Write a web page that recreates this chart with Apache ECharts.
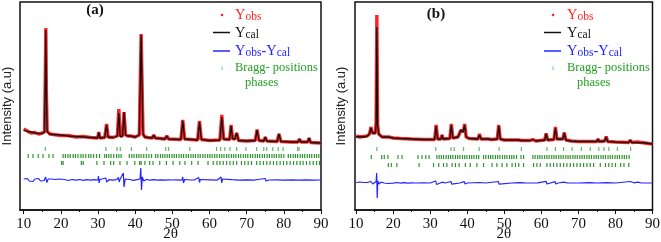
<!DOCTYPE html>
<html><head><meta charset="utf-8">
<script src="https://cdn.jsdelivr.net/npm/echarts@6/dist/echarts.min.js"></script>
<style>html,body{margin:0;padding:0;background:#fff}#c{width:661px;height:242px}</style>
</head><body><div id="c"></div>
<script>
// ---- Panel (a) data ----
const thetaA = [10,11,12,12.5,13,14,15,15.6,15.8,15.95,16.1,16.3,17,18,20,22,24,26,28,29.9,30.2,30.5,31.8,32.3,32.7,34,35.2,35.6,35.95,36.6,37.0,37.4,38.0,38.3,38.7,39.2,40,41.1,41.6,42.1,42.6,43.0,43.4,44.6,45.0,45.4,48.0,48.5,49.0,52.3,52.8,53.3,56.8,57.3,57.8,60,62.8,63.3,63.8,65.4,65.8,66.2,66.8,67.3,67.8,70,72.3,72.8,73.3,74.6,75.0,75.4,78.2,78.7,79.2,82,83.8,84.2,84.6,86.4,86.8,87.2,90];
const calA   = [80,78.5,78,80,77,76.5,76.5,78,130,180,120,78,76,75.5,75,74,73.5,73,72.5,72,77.5,72,72.5,85,73,72.5,74,97,73.5,74,98,75,74,76,74,75.5,73,75,175,76,73,75,72.5,72,75,72,71,74,71,70.5,89,71,70,88,70.5,69.5,70,93,71,70.5,84,71.5,71,77,69.5,69,69.5,80,69.5,69,73,69,68.5,76,68.5,68,68,71,68,68,72,67.5,67];
const obsA   = [81,79,77,79,77.5,76,77,78,132,182,118,79,76,75.5,74.5,74.5,73,73.5,72.5,72,78,72,72.5,86,73,72.5,74,101,74,74,98,75,74,76,74,75.5,73,75,176,76,73,75,72.5,72,75,72,71,74,71,70.5,90,71,70,89,70.5,69.5,70,95,71,70.5,85,71.5,71,77,69.5,69,69.5,80.5,69.5,69,73,69,68.5,76,68.5,68,68,71,68,68,72,67.5,67];
const diffThetaA = [10,10.5,11,11.5,12,12.5,13,13.5,14,14.5,15,15.5,15.9,16.2,16.6,17,17.5,18,18.5,19,19.5,20,21,22,23,24,25,26,27,28,29,30,30.1,30.3,30.5,31,32.1,32.3,32.5,33,34,35,35.5,35.7,35.9,36.4,36.8,37.0,37.3,37.8,38.5,39.5,40.5,41.3,41.5,41.7,41.9,42.3,43,44,45,46,47,48,49,50,51,52,52.6,52.8,53.0,53.3,55,56,57.1,57.3,57.5,58,60,62,63.1,63.3,63.5,64,66,68,70,72,73,75,75.2,76,78,80,82,84,86,88,90];
const diffA = [31,29,31.5,29,30.5,28.5,31,29.5,31.5,29,31,29.5,33,27.5,31,29.5,31,29,30.5,29.5,31,29.5,30.5,29.5,30.5,29.8,30.5,29.7,30.4,29.8,30.3,30,34,27,30.5,30,32,28,30,30.3,29.8,30.3,32.5,28,30.5,30,37,23,31,30,30.5,29.7,30.3,31,42,20,33,29,30.5,29.8,30.3,29.8,30.2,29.8,30.2,30,30.2,29.9,30,33,27,30.5,30,30.2,32.5,27.5,30.5,30,30.2,29.8,33,27,31,30,30.3,29.8,30.2,29.8,30.5,31.5,29,30,30.2,29.8,30.1,29.9,30.1,29.9,30];
const braggA1 = [15.8,32.1,35.1,36.0,39.0,43.1,48.2,49.0,54.7,61.9,63.0,64.1,65.5,67.3,69.8,72.7,74.6,75.4,77.0,78.5,79.8,83.7,84.1];
const braggA2 = [11.2,12.5,13.9,15.2,16.8,17.9,20.6,21.2,21.9,22.5,23.3,23.9,24.6,25.4,26.0,26.7,27.5,28.1,28.8,29.6,30.4,31.8,32.3,32.9,33.5,34.2,35.0,35.6,36.2,38.4,39.1,39.7,40.4,41.0,41.6,42.3,43.0,43.7,44.4,45.5,46.1,46.8,47.4,48.0,48.6,49.2,49.9,50.5,51.1,51.8,52.4,53.0,53.7,54.3,55.0,55.6,56.2,56.9,57.5,58.2,58.8,59.5,60.1,60.7,61.4,62.0,62.7,63.3,63.9,64.6,65.2,65.9,66.5,67.1,67.8,68.4,69.1,69.7,70.3,71.0,71.6,72.3,72.9,73.5,74.2,74.8,75.5,76.1,76.8,77.4,78.0,78.7,79.3,80.0,81.2,81.8,82.5,83.1,83.7,84.4,85.0,85.6,86.3,86.9,87.5,88.2,88.8,89.4];
const braggA3 = [20.2,20.6,25.5,26.0,29.7,31.6,33.4,34.2,35.9,37.8,39.9,41.2,41.6,42.6,43.9,44.8,46.6,48.4,50.2,52.0,53.4,55.2,56.9,59.6,61.0,62.0,62.8,63.7,64.6,65.5,66.4,67.3,68.6,69.5,70.4,71.3,72.7,73.6,74.5,75.4,76.3,77.2,78.1,79.0,79.9,80.8,81.7,82.6,83.5,84.4,85.2,86.1,87.0,87.9,88.8,89.6];

// ---- Panel (b) data ----
const thetaB = [10,11,12,13,13.6,14.0,14.4,15.2,15.4,15.6,15.8,16.1,17,18.2,18.5,18.8,20,22,25,28.2,28.5,28.8,31.2,31.6,32.0,32.9,33.2,33.5,35.3,35.7,36.1,37.5,38.3,38.9,39.3,39.7,40.5,42.9,43.3,43.7,45.7,46.1,46.5,48.1,48.5,48.9,50,53.9,54.2,54.5,57,57.7,58.5,60.9,61.3,61.7,63.4,63.8,64.2,65.8,66.2,66.6,68,70,72.7,73.0,73.3,75.0,75.3,75.6,77.1,77.5,77.9,80,83.6,84,84.4,86,88,90];
const calB   = [73,73.5,73,74,76,82,77,77,85,183,85,76,73,73,75,73,72,71.5,71,70.5,72,70.5,70.5,84,71,71,75,71,71.5,85,72,73,80,78,85,73,71.5,71,75,71,71,73,70.5,71,84,71,70,70,72,69.5,69.5,70.5,69,70,76,70,70.5,82,71,71,77,70,69,68.5,68.5,70.5,68.5,68.5,71,68.5,69,73,68.5,68,67.5,70,67.5,67.5,67,66];
const obsB   = [74,73,73.5,74,76,83,77,77,88,195,86,76,73,73,75,73,72,71.5,71,70.5,72,70.5,70.5,85,71,71,75,71,71.5,86,72,73,80,78,86,73,71.5,71,76,71,71,73,70.5,71,85,71,70,70,72,69.5,69.5,70.5,69,70,76.5,70,70.5,83,71,71,77.5,70,69,68.5,68.5,70.5,68.5,68.5,71,68.5,69,73.5,68.5,68,67.5,70,67.5,68,67,66];
const diffThetaB = [10,10.5,11,11.5,12,12.5,13,13.5,14,14.5,15,15.4,15.55,15.7,15.85,16.2,16.8,17.5,18,18.5,19,20,21,22,23,24,25,26,28,30,31.5,31.7,32,33.2,34,35.6,35.8,36.2,38,39.2,39.4,40,43.3,45,48.4,48.6,49,52,54.2,56,59,61.3,61.5,62,63.7,63.9,64.5,66.1,66.4,67,70,73,75,77.5,80,84,84.3,85,86,87,90];
const diffB = [27.5,26.5,28,26.5,27.5,26.8,27.5,26.5,28.5,26,27.5,28.5,37,12,29,26,28,27,28,26.5,27.5,26.8,27.5,26.8,27.3,26.8,27.2,27,27.2,27,29,25.5,27,27.8,27,28.5,25.8,27,27,28.3,26,27,27.5,27,28.5,25.8,27,27,27.4,27,27.2,28.6,26,27,28.3,26,27,27.8,26.5,27,27,27.3,27,27.4,27,28.5,26.5,27.2,27.8,27,27];
const braggB1 = [15.6,31.5,35.6,36.5,39.0,43.2,48.6,54.6,61.5,63.8,66.0,68.3,70.8,73.2,75.5,76.9,78.2,80.5,84.1];
const braggB2 = [14.1,16.9,17.6,18.6,21.3,22.4,26.7,27.8,28.8,29.7,31.8,32.4,33.0,33.6,34.3,34.9,35.5,36.1,36.8,37.4,38.0,38.7,39.3,39.9,40.6,41.2,41.8,42.5,43.1,44.4,45.0,45.7,46.3,46.9,47.6,48.2,48.8,49.5,50.1,50.7,51.4,52.0,52.6,53.3,54.5,55.2,57.7,58.3,59.0,59.6,60.2,60.9,61.5,62.1,62.8,63.4,64.0,64.7,65.3,65.9,66.6,67.2,67.8,68.5,69.1,69.7,70.4,71.0,71.6,72.3,72.9,73.5,74.2,74.8,75.4,76.1,76.7,77.3,78.0,78.6,79.2,79.9,80.5,81.1,81.8,82.4,83.0,83.7];
const braggB3 = [18.7,19.5,21.0,27.0,30.9,32.3,33.6,34.5,35.9,36.8,37.8,39.5,40.8,42.6,44.4,46.7,48.0,49.4,50.7,52.1,53.0,53.9,55.2,57.9,58.8,59.7,61.5,62.4,63.3,64.2,65.1,66.0,66.9,67.8,68.7,69.6,70.5,71.4,72.3,73.2,74.1,75.9,77.3,78.2,79.1,80.0,81.4,82.3,83.6];

// ---- axis ticks ----
const xTicks = [10,20,30,40,50,60,70,80,90];
const xMinorTicks = [15,25,35,45,55,65,75,85];
const seriesNames = ['Yobs','Ycal','Yobs-Ycal','Bragg- positions phases'];

const SERIF = '"Liberation Serif","Times New Roman",serif';
const RED = '#ff2424', BLUE = '#2424ff', GREEN = '#22a022', BRAGG = '#2d962d';

const chart = echarts.init(document.getElementById('c'), null, {renderer:'canvas'});

const panels = [
  {left:20, width:301, xmin:9, theta:thetaA, cal:calA, obs:obsA, dT:diffThetaA, d:diffA, br:[braggA1,braggA2,braggA3], rowY:[61,54,47], nameGap:6},
  {left:355, width:297.5, xmin:9.7, theta:thetaB, cal:calB, obs:obsB, dT:diffThetaB, d:diffB, br:[braggB1,braggB2,braggB3], rowY:[61,53,45], nameGap:7}
];

const grid=[], xAxis=[], yAxis=[], series=[];
panels.forEach((p, i) => {
  grid.push({left:p.left, width:p.width, top:2, height:208, show:true, borderColor:'#111', borderWidth:1.5,
    backgroundColor:'transparent', containLabel:false, outerBoundsMode:'none'});
  xAxis.push({type:'value', gridIndex:i, min:p.xmin, max:90, position:'bottom',
    axisLine:{show:true, lineStyle:{color:'#111', width:1.5}},
    axisTick:{show:true, customValues:xTicks, length:4, lineStyle:{color:'#111'}},
    axisLabel:{customValues:xTicks, margin:7, fontFamily:SERIF, fontSize:15, color:'#111'},
    splitLine:{show:false},
    name:'2θ', nameLocation:'middle', nameGap:16.5, nameMoveOverlap:false,
    nameTextStyle:{fontFamily:SERIF, fontSize:15, color:'#111'}});
  xAxis.push({type:'value', gridIndex:i, min:p.xmin, max:90, position:'bottom',
    axisLine:{show:false},
    axisTick:{show:true, customValues:xMinorTicks, length:2, lineStyle:{color:'#111'}},
    axisLabel:{show:false}, splitLine:{show:false}});
  yAxis.push({type:'value', gridIndex:i, min:0, max:208,
    axisLine:{show:false}, axisTick:{show:false}, axisLabel:{show:false}, splitLine:{show:false},
    name:'Intensity (a.u)', nameLocation:'middle', nameRotate:90, nameGap:p.nameGap,
    nameTextStyle:{fontFamily:'"Liberation Sans",Arial,sans-serif', fontSize:13, color:'#222'}});
  const xi = i*2;
  const zip = (xs, ys) => xs.map((x, k) => [x, ys[k]]);
  series.push({name:seriesNames[0], type:'line', xAxisIndex:xi, yAxisIndex:i, data:zip(p.theta,p.obs),
    showSymbol:false, lineStyle:{color:RED, width:3.4}, itemStyle:{color:RED}, z:2, animation:false});
  series.push({name:seriesNames[1], type:'line', xAxisIndex:xi, yAxisIndex:i, data:zip(p.theta,p.cal),
    showSymbol:false, lineStyle:{color:'#111', width:1.3}, itemStyle:{color:'#111'}, z:3, animation:false});
  series.push({name:seriesNames[2], type:'line', xAxisIndex:xi, yAxisIndex:i, data:zip(p.dT,p.d),
    showSymbol:false, lineStyle:{color:BLUE, width:1.2}, itemStyle:{color:BLUE}, z:3, animation:false});
  p.br.forEach((row, r) => {
    series.push({name:seriesNames[3], type:'scatter', xAxisIndex:xi, yAxisIndex:i,
      data: row.map(t => [t, p.rowY[r]]), symbol:'rect', symbolSize:[1.2,4],
      itemStyle:{color: r===0 ? '#4aaa4a' : BRAGG, opacity: r===0 ? 0.85 : 1}, z:2, animation:false});
  });
});

const rich = {
  y:{fontFamily:SERIF, fontSize:14.5},
  s:{fontFamily:SERIF, fontSize:11.5, padding:[3,0,0,0]}
};
function legendGraphics(dotX, textX, phasesX) {
  const g = [];
  g.push({type:'circle', shape:{cx:dotX, cy:15, r:1.3}, style:{fill:RED}, silent:true});
  g.push({type:'text', x:textX, y:15, style:{text:'{y|Y}{s|obs}', rich:rich, fill:RED, verticalAlign:'middle'}});
  g.push({type:'line', shape:{x1:dotX-9, y1:32.5, x2:dotX+8, y2:32.5}, style:{stroke:'#111', lineWidth:1.5}});
  g.push({type:'text', x:textX, y:33, style:{text:'{y|Y}{s|cal}', rich:rich, fill:'#111', verticalAlign:'middle'}});
  g.push({type:'line', shape:{x1:dotX-9, y1:51, x2:dotX+8, y2:51}, style:{stroke:BLUE, lineWidth:1.5}});
  g.push({type:'text', x:textX, y:51, style:{text:'{y|Y}{s|obs}{y|-Y}{s|cal}', rich:rich, fill:BLUE, verticalAlign:'middle'}});
  g.push({type:'rect', shape:{x:dotX-0.5, y:66.5, width:1.2, height:3.5}, style:{fill:'#8fd08f'}});
  g.push({type:'text', x:textX, y:68, style:{text:'Bragg- positions', fill:GREEN, font:'12.5px '+SERIF, verticalAlign:'middle'}});
  g.push({type:'text', x:phasesX, y:83, style:{text:'phases', fill:GREEN, font:'12.5px '+SERIF, verticalAlign:'middle'}});
  return g;
}
const graphic = [
  {type:'text', x:95, y:10, style:{text:'(a)', font:'bold 15px '+SERIF, fill:'#111', align:'center', verticalAlign:'middle'}},
  {type:'text', x:436, y:14, style:{text:'(b)', font:'bold 15px '+SERIF, fill:'#111', align:'center', verticalAlign:'middle'}}
].concat(legendGraphics(222, 235, 245)).concat(legendGraphics(553, 567, 577));

chart.setOption({animation:false, backgroundColor:'#fff', grid, xAxis, yAxis, series, graphic});
</script></body></html>
